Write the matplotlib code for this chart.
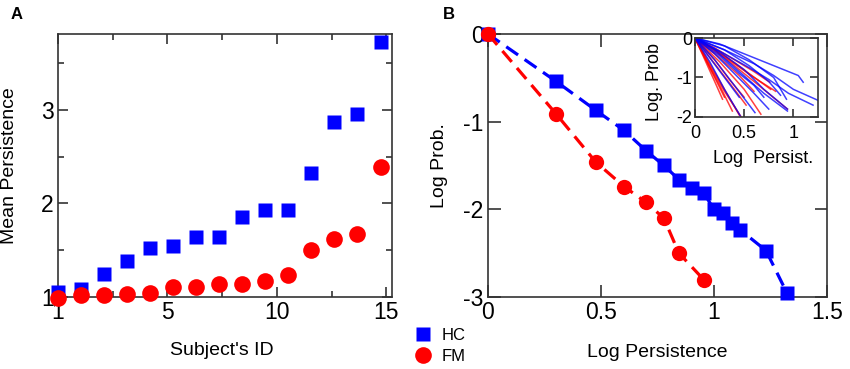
import numpy as np
import matplotlib.pyplot as plt
from matplotlib.lines import Line2D

plt.rcParams['font.family'] = ['Liberation Sans', 'DejaVu Sans']
plt.rcParams['axes.unicode_minus'] = False

# ---- panel A: mean persistence per subject (sorted) ----
subject_id = np.arange(1, 16)
hc_mean = [1.05, 1.09, 1.25, 1.39, 1.52, 1.54, 1.64, 1.64, 1.86, 1.93, 1.93, 2.33, 2.87, 2.95, 3.72]
fm_mean = [0.99, 1.02, 1.02, 1.03, 1.04, 1.11, 1.11, 1.14, 1.14, 1.17, 1.24, 1.50, 1.62, 1.67, 2.39]

# ---- panel B: log-log persistence distribution ----
hc_logp = [0.0, 0.301, 0.477, 0.602, 0.699, 0.778, 0.845, 0.903, 0.954, 1.0, 1.041, 1.079, 1.114, 1.23, 1.322]
hc_logprob = [0.0, -0.54, -0.87, -1.10, -1.33, -1.50, -1.66, -1.76, -1.81, -2.0, -2.04, -2.16, -2.23, -2.47, -2.95]
fm_logp = [0.0, 0.301, 0.477, 0.602, 0.699, 0.778, 0.845, 0.954]
fm_logprob = [0.0, -0.91, -1.46, -1.74, -1.92, -2.10, -2.50, -2.80]

# ---- inset: individual subjects ----
inset_hc_x = [
    [0, 0.25, 0.5, 0.7, 0.95, 1.05, 1.1],
    [0, 0.3, 0.6, 0.8, 1.0, 1.27],
    [0, 0.3, 0.55, 0.75, 0.95, 1.2],
    [0, 0.25, 0.5, 0.7, 0.94],
    [0, 0.2, 0.45, 0.7, 0.94],
    [0, 0.2, 0.4, 0.6, 0.75],
    [0, 0.2, 0.4, 0.61],
    [0, 0.15, 0.3, 0.46],
    [0, 0.3, 0.55, 0.75, 0.87],
    [0, 0.25, 0.45, 0.6, 0.7],
    [0, 0.3, 0.55, 0.8, 0.93],
    [0, 0.15, 0.3, 0.45],
]
inset_hc_y = [
    [0, -0.15, -0.4, -0.6, -0.85, -0.95, -1.12],
    [0, -0.3, -0.65, -0.95, -1.3, -1.6],
    [0, -0.4, -0.75, -1.05, -1.4, -1.7],
    [0, -0.35, -0.8, -1.3, -1.8],
    [0, -0.3, -0.85, -1.4, -1.85],
    [0, -0.4, -0.9, -1.4, -1.8],
    [0, -0.55, -1.2, -1.89],
    [0, -0.6, -1.3, -1.97],
    [0, -0.3, -0.7, -1.1, -1.45],
    [0, -0.45, -0.9, -1.2, -1.5],
    [0, -0.2, -0.55, -1.0, -1.55],
    [0, -0.5, -1.0, -1.5],
]
inset_fm_x = [
    [0, 0.15, 0.3, 0.47],
    [0, 0.15, 0.3, 0.45],
    [0, 0.1, 0.2, 0.3],
    [0, 0.12, 0.25, 0.38],
    [0, 0.2, 0.4, 0.52],
    [0, 0.25, 0.5, 0.67],
    [0, 0.2, 0.4, 0.6, 0.82],
    [0, 0.2, 0.4, 0.6, 0.76],
    [0, 0.3, 0.6, 0.94],
    [0, 0.1, 0.2, 0.28],
    [0, 0.25, 0.45, 0.6],
    [0, 0.3, 0.55, 0.77],
    [0, 0.2, 0.35, 0.5],
]
inset_fm_y = [
    [0, -0.7, -1.35, -2.0],
    [0, -0.65, -1.3, -1.95],
    [0, -0.5, -1.0, -1.5],
    [0, -0.6, -1.2, -1.85],
    [0, -0.65, -1.3, -1.7],
    [0, -0.6, -1.3, -1.93],
    [0, -0.3, -0.65, -1.0, -1.35],
    [0, -0.25, -0.55, -0.85, -1.12],
    [0, -0.5, -1.1, -1.8],
    [0, -0.55, -1.1, -1.55],
    [0, -0.5, -0.95, -1.35],
    [0, -0.45, -0.9, -1.3],
    [0, -0.55, -1.05, -1.5],
]

BLUE = '#0000ff'
RED = '#ff0000'
TICK_FS = 16.5
LABEL_FS = 14


def style_axes(ax, fs=TICK_FS, major_len=7, minor_len=4):
    for sp in ax.spines.values():
        sp.set_linewidth(1.2)
        sp.set_color('#333333')
    ax.tick_params(which='both', direction='in', top=True, right=True,
                   colors='#333333', labelcolor='black', width=1.2, labelsize=fs, pad=3)
    ax.tick_params(which='major', length=major_len)
    ax.tick_params(which='minor', length=minor_len)


fig = plt.figure(figsize=(8.5, 3.69), dpi=100)

# ==========================================
# A
# ==========================================
axA = fig.add_axes([0.0682, 0.195, 0.393, 0.713])
axA.plot(subject_id, hc_mean, 's', color=BLUE, ms=10.5, mec='none', clip_on=False, zorder=3)
axA.plot(subject_id, fm_mean, 'o', color=RED, ms=12, mec='none', clip_on=False, zorder=4)
axA.set_xlim(1, 15.5)
axA.set_ylim(1, 3.81)
axA.set_xticks([1, 5.75, 10.5, 15.25])
axA.set_xticklabels(['1', '5', '10', '15'])
axA.set_xticks([3.375, 8.125, 12.875], minor=True)
axA.set_yticks([1, 2, 3])
axA.set_yticks([1.5, 2.5, 3.5], minor=True)
style_axes(axA)
axA.set_xlabel("Subject's ID", fontsize=LABEL_FS)
axA.set_ylabel('Mean Persistence', fontsize=LABEL_FS)
axA.xaxis.set_label_coords(0.49, -0.172)
axA.yaxis.set_label_coords(-0.12, 0.5)
fig.text(0.012, 0.96, 'A', fontsize=12, fontweight='bold', va='center')

# ==========================================
# B
# ==========================================
axB = fig.add_axes([0.574, 0.195, 0.399, 0.713])
axB.plot(hc_logp, hc_logprob, '--', color=BLUE, lw=2.3, dashes=(4.5, 2.5),
         marker='s', ms=9.5, mec='none', clip_on=False, zorder=3)
axB.plot(fm_logp, fm_logprob, '--', color=RED, lw=2.3, dashes=(4.5, 2.5),
         marker='o', ms=11, mec='none', clip_on=False, zorder=4)
axB.set_xlim(0, 1.5)
axB.set_ylim(-3, 0)
axB.set_xticks([0, 0.5, 1, 1.5])
axB.set_xticklabels(['0', '0.5', '1', '1.5'])
axB.set_yticks([-3, -2, -1, 0])
style_axes(axB, major_len=9)
axB.set_xlabel('Log Persistence', fontsize=LABEL_FS)
axB.set_ylabel('Log Prob.', fontsize=LABEL_FS)
axB.xaxis.set_label_coords(0.50, -0.18)
axB.yaxis.set_label_coords(-0.118, 0.5)
fig.text(0.521, 0.96, 'B', fontsize=12, fontweight='bold', va='center')

# inset
axI = fig.add_axes([0.8176, 0.683, 0.1447, 0.214])
for xs, ys in zip(inset_fm_x, inset_fm_y):
    axI.plot(xs, ys, color=RED, lw=1.1, alpha=0.75)
for xs, ys in zip(inset_hc_x, inset_hc_y):
    axI.plot(xs, ys, color=BLUE, lw=1.1, alpha=0.75)
axI.set_xlim(0, 1.25)
axI.set_ylim(-2, 0)
axI.set_xticks([0, 0.5, 1])
axI.set_xticklabels(['0', '0.5', '1'])
axI.set_yticks([-2, -1, 0])
style_axes(axI, fs=13, major_len=6)
axI.tick_params(axis='y', pad=2)
axI.tick_params(axis='x', pad=6)
axI.set_xlabel('Log  Persist.', fontsize=13)
axI.set_ylabel('Log. Prob', fontsize=13)
axI.xaxis.set_label_coords(0.55, -0.42)
axI.yaxis.set_label_coords(-0.26, 0.44)

# legend between panels
handles = [Line2D([], [], ls='none', marker='s', color=BLUE, ms=9.5, mec='none'),
           Line2D([], [], ls='none', marker='o', color=RED, ms=12, mec='none')]
fig.legend(handles, ['HC', 'FM'], loc='center left', bbox_to_anchor=(0.478, 0.063),
           frameon=False, fontsize=12, handlelength=1.0, handletextpad=0.6,
           labelspacing=0.35, borderpad=0)

fig.savefig('out.png', dpi=100)
